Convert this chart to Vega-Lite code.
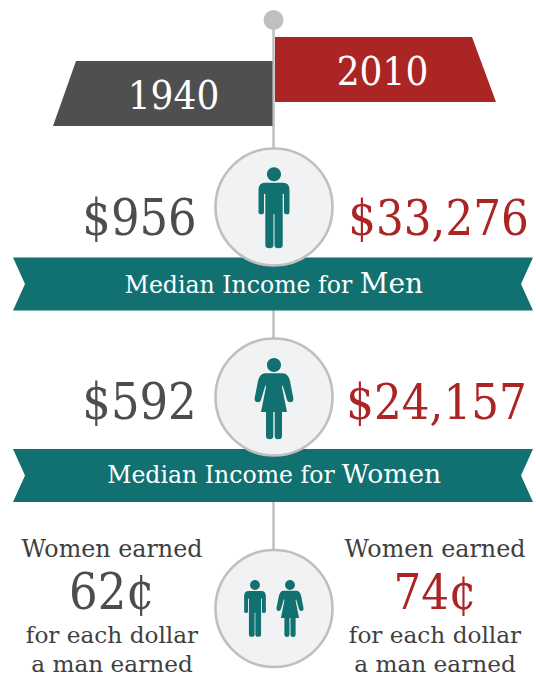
{
"$schema":"https://vega.github.io/schema/vega-lite/v6.json",
"width":536,"height":677,"padding":0,
"autosize":{"type":"none"},
"background":"white",
"config":{"view":{"stroke":null}},
"resolve":{"scale":{"color":"independent","size":"independent","fill":"independent"}},
"encoding":{
"x":{"field":"x","type":"quantitative","scale":{"domain":[0,536],"nice":false,"zero":false},"axis":null},
"y":{"field":"y","type":"quantitative","scale":{"domain":[677,0],"nice":false,"zero":false},"axis":null}
},
"layer":[
{"data":{"values":[{"x":273.5,"y":20},{"x":273.5,"y":560}]},
 "mark":{"type":"line","stroke":"#bfbfbf","strokeWidth":2.5}},
{"data":{"values":[{"x":273.5,"y":20}]},
 "mark":{"type":"point","shape":"circle","filled":true,"color":"#bfbfbf","opacity":1,"size":400}},
{"data":{"values":[
{"id":"1940","o":1,"x":76,"y":61,"c":"old"},{"id":"1940","o":2,"x":272.5,"y":61,"c":"old"},{"id":"1940","o":3,"x":272.5,"y":126,"c":"old"},{"id":"1940","o":4,"x":53,"y":126,"c":"old"},
{"id":"2010","o":1,"x":275,"y":37,"c":"new"},{"id":"2010","o":2,"x":472,"y":37,"c":"new"},{"id":"2010","o":3,"x":496,"y":102,"c":"new"},{"id":"2010","o":4,"x":275,"y":102,"c":"new"},
{"id":"men","o":1,"x":13,"y":257.5,"c":"band"},{"id":"men","o":2,"x":533,"y":257.5,"c":"band"},{"id":"men","o":3,"x":521,"y":284,"c":"band"},{"id":"men","o":4,"x":533,"y":310.5,"c":"band"},{"id":"men","o":5,"x":13,"y":310.5,"c":"band"},{"id":"men","o":6,"x":25,"y":284,"c":"band"},
{"id":"women","o":1,"x":13,"y":449,"c":"band"},{"id":"women","o":2,"x":533,"y":449,"c":"band"},{"id":"women","o":3,"x":521,"y":475.5,"c":"band"},{"id":"women","o":4,"x":533,"y":502,"c":"band"},{"id":"women","o":5,"x":13,"y":502,"c":"band"},{"id":"women","o":6,"x":25,"y":475.5,"c":"band"}
]},
 "mark":{"type":"line","strokeWidth":0,"interpolate":"linear-closed"},
 "encoding":{
  "detail":{"field":"id"},
  "order":{"field":"o","type":"quantitative"},
  "fill":{"field":"c","type":"nominal","legend":null,"scale":{"domain":["old","new","band"],"range":["#4f4f4f","#ab2525","#107170"]}}
 }},
{"data":{"values":[{"x":274,"y":207},{"x":274,"y":397},{"x":274,"y":608.5}]},
 "mark":{"type":"point","shape":"circle","filled":true,"fill":"#f1f2f4","stroke":"#bfbfbf","strokeWidth":2.6,"opacity":1,"size":13689}},
{"data":{"values":[{"x":274,"y":211}]},
 "mark":{"type":"point","size":4,"filled":true,"color":"#107170","opacity":1,"shape":"M-7,-36.7 a7,7 0 1 1 14,0 a7,7 0 1 1 -14,0 Z M-9,-28.3 L9,-28.3 Q15.5,-28.3 15.5,-21 L15.5,1 Q15.5,3.3 12.7,3.3 Q10,3.3 10,1 L10,-17 L8.7,-17 L8.7,34 Q8.7,37.3 4.6,37.3 Q0.5,37.3 0.5,34 L0.5,3 L-0.5,3 L-0.5,34 Q-0.5,37.3 -4.6,37.3 Q-8.7,37.3 -8.7,34 L-8.7,-17 L-10,-17 L-10,1 Q-10,3.3 -12.7,3.3 Q-15.5,3.3 -15.5,1 L-15.5,-21 Q-15.5,-28.3 -9,-28.3 Z"}},
{"data":{"values":[{"x":255,"y":610.7}]},
 "mark":{"type":"point","size":1.96,"filled":true,"color":"#107170","opacity":1,"shape":"M-7,-36.7 a7,7 0 1 1 14,0 a7,7 0 1 1 -14,0 Z M-9,-28.3 L9,-28.3 Q15.5,-28.3 15.5,-21 L15.5,1 Q15.5,3.3 12.7,3.3 Q10,3.3 10,1 L10,-17 L8.7,-17 L8.7,34 Q8.7,37.3 4.6,37.3 Q0.5,37.3 0.5,34 L0.5,3 L-0.5,3 L-0.5,34 Q-0.5,37.3 -4.6,37.3 Q-8.7,37.3 -8.7,34 L-8.7,-17 L-10,-17 L-10,1 Q-10,3.3 -12.7,3.3 Q-15.5,3.3 -15.5,1 L-15.5,-21 Q-15.5,-28.3 -9,-28.3 Z"}},
{"data":{"values":[{"x":274,"y":401}]},
 "mark":{"type":"point","size":4,"filled":true,"color":"#107170","opacity":1,"shape":"M-7,-36 a7,7 0 1 1 14,0 a7,7 0 1 1 -14,0 Z M-9,-27.7 L9,-27.7 Q14,-27.7 16,-20 L19.3,-3 Q19.8,1.3 16,1.3 Q13.5,1.3 12.7,-2 L8.6,-16 L8,-14 L13,11 L8,11 L8,35 Q8,38.3 4.4,38.3 Q0.7,38.3 0.7,35 L0.7,11 L-0.7,11 L-0.7,35 Q-0.7,38.3 -4.4,38.3 Q-8,38.3 -8,35 L-8,11 L-13,11 L-8,-14 L-8.6,-16 L-12.7,-2 Q-13.5,1.3 -16,1.3 Q-19.8,1.3 -19.3,-3 L-16,-20 Q-14,-27.7 -9,-27.7 Z"}},
{"data":{"values":[{"x":290,"y":610.2}]},
 "mark":{"type":"point","size":1.96,"filled":true,"color":"#107170","opacity":1,"shape":"M-7,-36 a7,7 0 1 1 14,0 a7,7 0 1 1 -14,0 Z M-9,-27.7 L9,-27.7 Q14,-27.7 16,-20 L19.3,-3 Q19.8,1.3 16,1.3 Q13.5,1.3 12.7,-2 L8.6,-16 L8,-14 L13,11 L8,11 L8,35 Q8,38.3 4.4,38.3 Q0.7,38.3 0.7,35 L0.7,11 L-0.7,11 L-0.7,35 Q-0.7,38.3 -4.4,38.3 Q-8,38.3 -8,35 L-8,11 L-13,11 L-8,-14 L-8.6,-16 L-12.7,-2 Q-13.5,1.3 -16,1.3 Q-19.8,1.3 -19.3,-3 L-16,-20 Q-14,-27.7 -9,-27.7 Z"}},
{"data":{"values":[
{"t":"1940","x":173.5,"y":109,"s":"year"},
{"t":"2010","x":382.5,"y":85,"s":"year"},
{"t":"$956","x":139.5,"y":235,"s":"old"},
{"t":"$33,276","x":438.5,"y":235,"s":"new"},
{"t":"$592","x":139.5,"y":419,"s":"old"},
{"t":"$24,157","x":436.5,"y":419,"s":"new"},
{"t":"62¢","x":112,"y":609,"s":"old"},
{"t":"74¢","x":435,"y":609,"s":"new"}
]},
 "mark":{"type":"text","font":"DejaVu Serif Condensed, DejaVu Serif","align":"center","baseline":"alphabetic"},
 "encoding":{
  "text":{"field":"t"},
  "color":{"field":"s","type":"nominal","legend":null,"scale":{"domain":["year","old","new"],"range":["#ffffff","#4d4d4d","#ab2525"]}},
  "size":{"field":"s","type":"nominal","legend":null,"scale":{"type":"ordinal","domain":["year","old","new"],"range":[40,50,48.5]}}
 }},
{"data":{"values":[
{"t":"Median Income for","x":238.5,"y":293,"s":"band"},
{"t":"Men","x":391.5,"y":293,"s":"men"},
{"t":"Median Income for","x":221,"y":483,"s":"band"},
{"t":"Women","x":391.5,"y":483,"s":"women"},
{"t":"Women earned","x":112,"y":556.5,"s":"note"},
{"t":"for each dollar","x":112,"y":643,"s":"line"},
{"t":"a man earned","x":112,"y":672,"s":"line"},
{"t":"Women earned","x":435,"y":556.5,"s":"note"},
{"t":"for each dollar","x":435,"y":643,"s":"line"},
{"t":"a man earned","x":435,"y":672,"s":"line"}
]},
 "mark":{"type":"text","font":"DejaVu Serif","align":"center","baseline":"alphabetic"},
 "encoding":{
  "text":{"field":"t"},
  "color":{"field":"s","type":"nominal","legend":null,"scale":{"domain":["band","men","women","note","line"],"range":["#ffffff","#ffffff","#ffffff","#404040","#404040"]}},
  "size":{"field":"s","type":"nominal","legend":null,"scale":{"type":"ordinal","domain":["band","men","women","note","line"],"range":[23.6,28,26.5,23.8,23.2]}}
 }}
]
}
